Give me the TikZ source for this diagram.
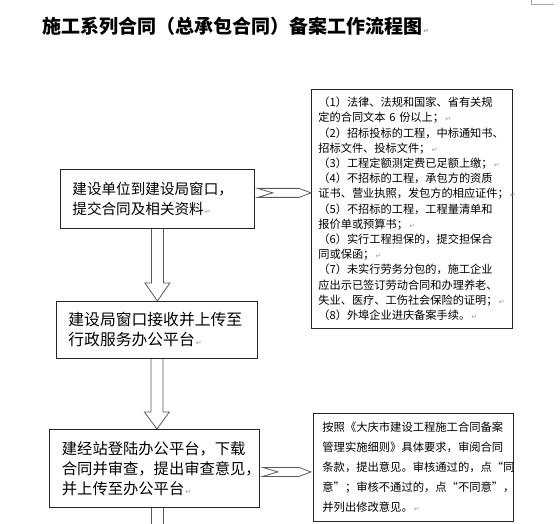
\documentclass[tikz,border=0pt]{standalone}
\usepackage{fontspec}
\setmainfont{Noto Sans CJK SC}
\newfontfamily\dejavu{DejaVu Sans}
\usetikzlibrary{calc}
\newcommand\pmk{{\dejavu\color{black!40}\fontsize{7}{7}\selectfont\,↵}}
\begin{document}
\begin{tikzpicture}[x=1pt,y=-1pt,
  box/.style={draw=black!85, line width=0.8pt, anchor=north west, inner ysep=0pt, align=left},
  arr/.style={draw=black!65, line width=0.8pt}]
\useasboundingbox (0,0) rectangle (560,524);
\fill[white] (0,0) rectangle (560,524);

\node[anchor=west, inner sep=0pt, font=\bfseries\fontsize{19}{19}\selectfont] (title) at (42,26) {施工系列合同（总承包合同）备案工作流程图\pmk};

\node[box, inner xsep=12pt, text width=170pt, minimum height=59pt, font=\fontsize{14.6}{20}\selectfont] (b1) at (60,169) {建设单位到建设局窗口，\\提交合同及相关资料\pmk};

\node[box, inner xsep=12pt, text width=177pt, minimum height=57pt, font=\fontsize{15.8}{20}\selectfont] (b2) at (56,301) {建设局窗口接收并上传至\\行政服务办公平台\pmk};

\node[box, inner xsep=12.5pt, text width=185pt, minimum height=78pt, font=\fontsize{15.3}{20}\selectfont] (b3) at (49,429) {建经站登陆办公平台，下载\\合同并审查，提出审查意见，\\并上传至办公平台\pmk};

\node[box, inner xsep=7pt, text width=187pt, minimum height=239pt, font=\fontsize{11.2}{15.2}\selectfont] (r1) at (311,89) {（1）法律、法规和国家、省有关规\\定的合同文本 6 份以上；\pmk\\（2）招标投标的工程，中标通知书、\\招标文件、投标文件；\pmk\\（3）工程定额测定费已足额上缴；\pmk\\（4）不招标的工程，承包方的资质\\证书、营业执照，发包方的相应证件；\pmk\\（5）不招标的工程，工程量清单和\\报价单或预算书；\pmk\\（6）实行工程担保的，提交担保合\\同或保函；\pmk\\（7）未实行劳务分包的，施工企业\\应出示已签订劳动合同和办理养老、\\失业、医疗、工伤社会保险的证明；\pmk\\（8）外埠企业进庆备案手续。\pmk};

\node[box, inner xsep=9pt, text width=182pt, minimum height=108pt, font=\fontsize{11.3}{20}\selectfont] (r2) at (313,413) {按照《大庆市建设工程施工合同备案\\管理实施细则》具体要求，审阅合同\\条款，提出意见。审核通过的，点“同\\意”；审核不通过的，点“不同意”，\\并列出修改意见。\pmk};

% vertical block arrows
\draw[arr] let \p1=(b1.south), \p2=(b2.north) in
  (\x1-6pt,\y1) -- (\x1-6pt,\y2+18pt) -- (\x1-12.5pt,\y2+18pt) -- (\x1,\y2)
  -- (\x1+12.5pt,\y2+18pt) -- (\x1+6pt,\y2+18pt) -- (\x1+6pt,\y1);
\draw[arr] let \p1=(b2.south), \p2=(b3.north) in
  (\x1-6pt,\y1) -- (\x1-6pt,\y2+17pt) -- (\x1-12.5pt,\y2+17pt) -- (\x1,\y2)
  -- (\x1+12.5pt,\y2+17pt) -- (\x1+6pt,\y2+17pt) -- (\x1+6pt,\y1);
\coordinate (s3) at (b2.south |- b3.south);
\coordinate (e3) at (b2.south |- 0,530);
\draw[arr] let \p1=(s3), \p2=(e3) in
  (\x1-6pt,\y1) -- (\x1-6pt,\y2) (\x1+6pt,\y1) -- (\x1+6pt,\y2);

% horizontal notched arrows
\coordinate (h1a) at ($(b1.east)+(3,-6)$);
\coordinate (h1b) at (r1.west |- h1a);
\draw[arr] let \p1=(h1a), \p2=(h1b) in
  (\x1,\y1+4.5pt) -- (\x2-12pt,\y1+4.5pt) -- (\x2,\y1) -- (\x2-12pt,\y1-4.5pt)
  -- (\x1,\y1-4.5pt) -- (\x1+15pt,\y1) -- cycle;
\coordinate (h2a) at ($(b3.east)+(3,3.5)$);
\coordinate (h2b) at ($(r2.west |- h2a)+(-2,0)$);
\draw[arr] let \p1=(h2a), \p2=(h2b) in
  (\x1,\y1+4.5pt) -- (\x2-12pt,\y1+4.5pt) -- (\x2,\y1) -- (\x2-12pt,\y1-4.5pt)
  -- (\x1,\y1-4.5pt) -- (\x1+15pt,\y1) -- cycle;

% page corner mark
\draw[black!35, line width=0.6pt] (531,0) -- (531,4) -- (554,4);
\end{tikzpicture}
\end{document}
